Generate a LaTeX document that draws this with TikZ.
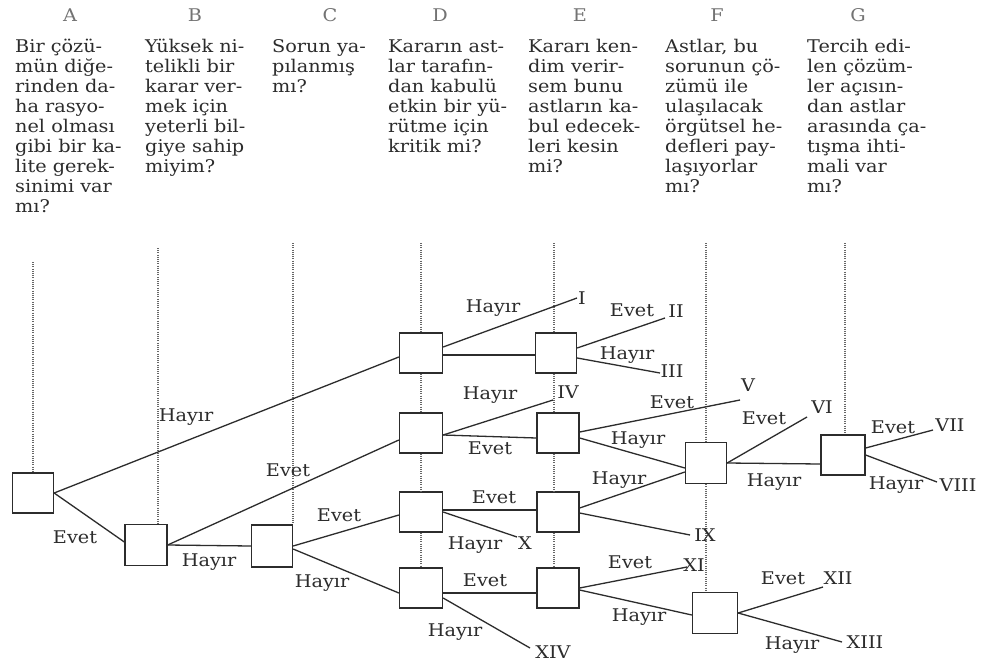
\documentclass[tikz,border=0pt]{standalone}
\usepackage{fontspec}
\setmainfont{DejaVu Serif}[FakeStretch=1.1]
\definecolor{ink}{HTML}{2C2C2C}
\begin{document}
\begin{tikzpicture}[x=1pt,y=-1pt,
  qbox/.style={draw=ink, line width=1.3pt, minimum width=41pt, minimum height=40pt, inner sep=0pt},
  edge/.style={draw=ink, line width=1.3pt},
  guide/.style={draw=black!60, line width=1.2pt, dash pattern=on 1pt off 1.2pt},
  lab/.style={font=\fontsize{17.5}{20}\selectfont, text=ink, inner sep=0pt},
  col/.style={lab, align=left, anchor=north west},
  hdr/.style={lab, text=black!55}]
\fill[white] (0,0) rectangle (989,670);
\useasboundingbox (0,0) rectangle (989,670);

% headers
\node[hdr] (hA) at (70,15) {A};
\node[hdr] (hB) at (195,15) {B};
\node[hdr] (hC) at (330,15) {C};
\node[hdr] (hD) at (440,15) {D};
\node[hdr] (hE) at (580,15) {E};
\node[hdr] (hF) at (717,15) {F};
\node[hdr] (hG) at (858,15) {G};

% question columns
\node[col] (qA) at (15,35) {\rule{0pt}{17pt}Bir çözü-\\mün diğe-\\rinden da-\\ha rasyo-\\nel olması\\gibi bir ka-\\lite gerek-\\sinimi var\\mı?};
\node[col] (qB) at (145,35) {\rule{0pt}{17pt}Yüksek ni-\\telikli bir\\karar ver-\\mek için\\yeterli bil-\\giye sahip\\miyim?};
\node[col] (qC) at (272,35) {\rule{0pt}{17pt}Sorun ya-\\pılanmış\\mı?};
\node[col] (qD) at (388,35) {\rule{0pt}{17pt}Kararın ast-\\lar tarafın-\\dan kabulü\\etkin bir yü-\\rütme için\\kritik mi?};
\node[col] (qE) at (528,35) {\rule{0pt}{17pt}Kararı ken-\\dim verir-\\sem bunu\\astların ka-\\bul edecek-\\leri kesin\\mi?};
\node[col] (qF) at (665,35) {\rule{0pt}{17pt}Astlar, bu\\sorunun çö-\\zümü ile\\ulaşılacak\\örgütsel he-\\defleri pay-\\laşıyorlar\\mı?};
\node[col] (qG) at (807,35) {\rule{0pt}{17pt}Tercih edi-\\len çözüm-\\ler açısın-\\dan astlar\\arasında ça-\\tışma ihti-\\mali var\\mı?};

% decision boxes
\node[qbox] (a) at (33,493) {};
\node[qbox, minimum width=42pt, minimum height=41pt] (b) at (146,545) {};
\node[qbox, minimum height=42pt] (c) at (272,546) {};
\node[qbox, minimum width=43pt] (d1) at (421,353) {};
\node[qbox] (e1) at (556,353) {};
\node[qbox, minimum width=43pt] (d2) at (421,433) {};
\node[qbox, minimum width=42pt] (e2) at (558,433) {};
\node[qbox, minimum width=43pt] (d3) at (421,512) {};
\node[qbox, minimum width=42pt] (e3) at (558,512) {};
\node[qbox, minimum width=43pt] (d4) at (421,588) {};
\node[qbox, minimum width=42pt] (e4) at (558,588) {};
\node[qbox, minimum height=41pt] (f1) at (706,463) {};
\node[qbox, minimum width=44pt] (g) at (843,455) {};
\node[qbox, minimum width=45pt, minimum height=41pt] (f2) at (715,613) {};

% dotted guide lines
\coordinate (tA) at (33,262);
\coordinate (tB) at (158,248);
\coordinate (tC) at (293,243);
\coordinate (tD) at (421,243);
\coordinate (tE) at (554,243);
\coordinate (tF) at (706,243);
\coordinate (tG) at (845,243);
\draw[guide] (tA) -- (a.north);
\draw[guide] (tB) -- (tB |- b.north);
\draw[guide] (tC) -- (tC |- c.north);
\draw[guide] (tD) -- (d1.north);
\draw[guide] (d1.south) -- (d2.north);
\draw[guide] (d2.south) -- (d3.north);
\draw[guide] (d3.south) -- (d4.north);
\draw[guide] (tE) -- (tE |- e1.north);
\draw[guide] (tE |- e1.south) -- (tE |- e2.north);
\draw[guide] (tE |- e2.south) -- (tE |- e3.north);
\draw[guide] (tE |- e3.south) -- (tE |- e4.north);
\draw[guide] (tF) -- (f1.north);
\draw[guide] (f1.south) -- (f1.south |- f2.north);
\draw[guide] (tG) -- (tG |- g.north);

% leaf end points
\coordinate (eI) at (577,298);
\coordinate (eII) at (665,318);
\coordinate (eIII) at (660,373);
\coordinate (eIV) at (553,400);
\coordinate (eV) at (740,400);
\coordinate (eVI) at (807,417);
\coordinate (eVII) at (933,430);
\coordinate (eVIII) at (937,482);
\coordinate (eIX) at (690,535);
\coordinate (eX) at (517,537);
\coordinate (eXI) at (687,567);
\coordinate (eXII) at (823,587);
\coordinate (eXIII) at (842,642);
\coordinate (eXIV) at (530,648);

% connectors
\draw[edge] (a.east) -- ([yshift=-4pt]d1.west);
\draw[edge] (a.east) -- ([yshift=3pt]b.west);
\draw[edge] (b.east) -- ([yshift=-7pt]d2.west);
\draw[edge] (b.east) -- (c.west);
\draw[edge] (c.east) -- ([yshift=-3pt]d3.west);
\draw[edge] ([yshift=-3pt]c.east) -- ([yshift=-5pt]d4.west);
\draw[edge] ([yshift=6pt]d1.east) -- (eI);
\draw[edge] ([yshift=-2pt]d1.east) -- ([yshift=-2pt]e1.west);
\draw[edge] ([yshift=5pt]e1.east) -- (eII);
\draw[edge] ([yshift=-5pt]e1.east) -- (eIII);
\draw[edge] ([yshift=-2pt]d2.east) -- (eIV);
\draw[edge] ([yshift=-2pt]d2.east) -- ([yshift=-5pt]e2.west);
\draw[edge] ([yshift=1pt]e2.east) -- (eV);
\draw[edge] ([yshift=-5pt]e2.east) -- ([yshift=-5pt]f1.west);
\draw[edge] ([yshift=2pt]d3.east) -- ([yshift=2pt]e3.west);
\draw[edge] (d3.east) -- (eX);
\draw[edge] ([yshift=4pt]e3.east) -- ([yshift=-9pt]f1.west);
\draw[edge] ([yshift=-1pt]e3.east) -- (eIX);
\draw[edge] ([yshift=-5pt]d4.east) -- ([yshift=-5pt]e4.west);
\draw[edge] ([yshift=-10pt]d4.east) -- (eXIV);
\draw[edge] (e4.east) -- (eXI);
\draw[edge] ([yshift=-2pt]e4.east) -- ([yshift=-2pt]f2.west);
\draw[edge] (f1.east) -- (eVI);
\draw[edge] (f1.east) -- ([yshift=-9pt]g.west);
\draw[edge] ([yshift=7pt]g.east) -- (eVII);
\draw[edge] (g.east) -- (eVIII);
\draw[edge] (f2.east) -- (eXII);
\draw[edge] (f2.east) -- (eXIII);

% leaf labels
\node[lab] (nI) at (582,298) {I};
\node[lab] (nII) at (676,311) {II};
\node[lab] (nIII) at (672,371) {III};
\node[lab] (nIV) at (568,392) {IV};
\node[lab] (nV) at (748,385) {V};
\node[lab] (nVI) at (822,407) {VI};
\node[lab] (nVII) at (950,425) {VII};
\node[lab] (nVIII) at (958,485) {VIII};
\node[lab] (nIX) at (705,535) {IX};
\node[lab] (nX) at (525,543) {X};
\node[lab] (nXI) at (694,565) {XI};
\node[lab] (nXII) at (838,578) {XII};
\node[lab] (nXIII) at (865,642) {XIII};
\node[lab] (nXIV) at (553,652) {XIV};

% branch labels
\node[lab] (l1) at (186,417) {Hayır};
\node[lab] (l2) at (75,537) {Evet};
\node[lab] (l3) at (288,470) {Evet};
\node[lab] (l4) at (209,562) {Hayır};
\node[lab] (l5) at (339,515) {Evet};
\node[lab] (l6) at (322,583) {Hayır};
\node[lab] (l7) at (493,308) {Hayır};
\node[lab] (l8) at (632,310) {Evet};
\node[lab] (l9) at (627,355) {Hayır};
\node[lab] (l10) at (490,395) {Hayır};
\node[lab] (l11) at (490,448) {Evet};
\node[lab] (l12) at (672,402) {Evet};
\node[lab] (l13) at (638,440) {Hayır};
\node[lab] (l14) at (619,480) {Hayır};
\node[lab] (l15) at (494,497) {Evet};
\node[lab] (l16) at (475,545) {Hayır};
\node[lab] (l17) at (485,580) {Evet};
\node[lab] (l18) at (455,632) {Hayır};
\node[lab] (l19) at (630,562) {Evet};
\node[lab] (l20) at (639,617) {Hayır};
\node[lab] (l21) at (764,418) {Evet};
\node[lab] (l22) at (774,482) {Hayır};
\node[lab] (l23) at (893,427) {Evet};
\node[lab] (l24) at (896,485) {Hayır};
\node[lab] (l25) at (783,578) {Evet};
\node[lab] (l26) at (792,645) {Hayır};
\end{tikzpicture}
\end{document}
